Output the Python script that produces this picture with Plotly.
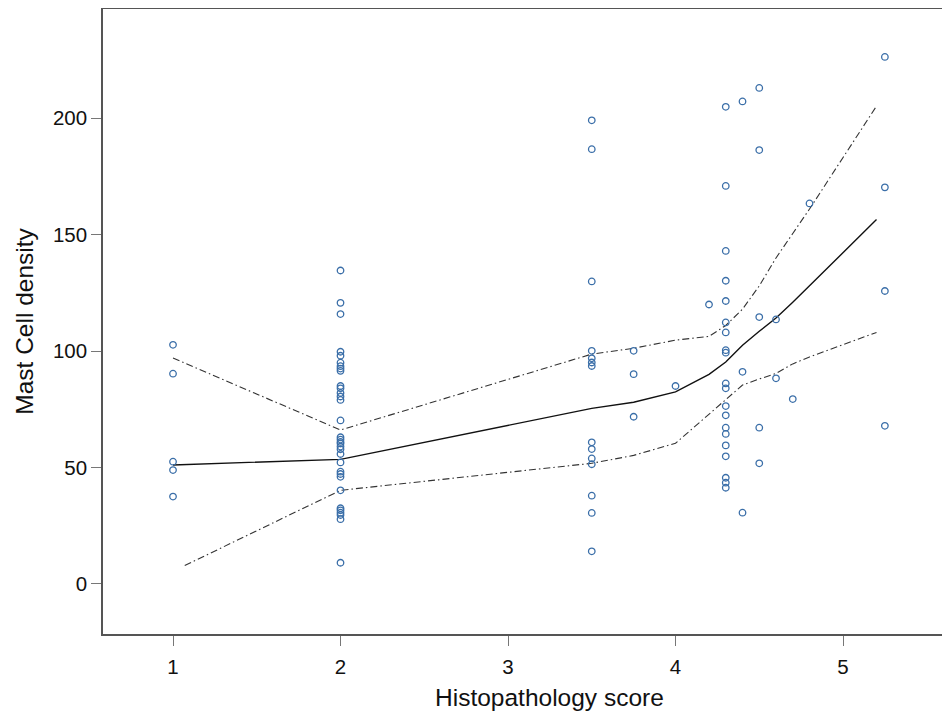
import plotly.graph_objects as go

# ---- scatter data (Histopathology score, Mast Cell density) ----
score_1 = [1] * 5
density_1 = [102.7, 90.3, 52.5, 48.9, 37.5]

density_2 = [134.6, 120.7, 115.9, 99.7, 98.0, 95.0, 93.5, 92.5, 91.5, 85.0, 84.0,
             82.0, 80.5, 79.0, 70.2, 63.0, 62.0, 61.0, 60.3, 59.0, 57.8, 55.8,
             52.2, 48.2, 47.2, 46.0, 40.2, 32.5, 31.6, 30.6, 29.6, 27.8, 9.1]
score_2 = [2] * len(density_2)

density_35 = [199.1, 186.7, 129.9, 100.1, 96.9, 95.1, 93.6, 60.8, 57.9, 53.9, 51.4, 37.9, 30.5, 14.0]
score_35 = [3.5] * len(density_35)

density_375 = [100.1, 90.1, 71.8]
score_375 = [3.75] * len(density_375)

score_misc = [4.0, 4.2, 4.6, 4.6, 4.7, 4.8]
density_misc = [85.0, 120.0, 113.6, 88.3, 79.4, 163.4]

density_43 = [204.9, 170.9, 143.0, 130.2, 121.5, 112.3, 108.0, 100.4, 99.3, 86.1, 84.0,
              76.4, 72.4, 67.1, 64.4, 59.5, 54.8, 45.6, 43.5, 41.3]
score_43 = [4.3] * len(density_43)

density_44 = [207.2, 91.1, 30.6]
score_44 = [4.4] * len(density_44)

density_45 = [213.0, 186.3, 114.6, 67.1, 51.8]
score_45 = [4.5] * len(density_45)

density_525 = [226.3, 170.3, 125.8, 67.9]
score_525 = [5.25] * len(density_525)

# ---- fitted curve and bands ----
fit_x = [1, 2, 3.5, 3.75, 4.0, 4.2, 4.3, 4.4, 4.5, 4.6, 4.7, 4.8, 5.2]
fit_mid = [51.1, 53.5, 75.4, 78.0, 82.5, 90.0, 95.3, 102.5, 108.5, 114.2, 121.0, 128.0, 156.5]
fit_upper = [97.0, 66.1, 98.7, 101.2, 104.7, 106.3, 111.0, 118.0, 128.0, 140.0, 150.5, 161.0, 205.2]
lower_x = [1.07, 2, 3.5, 3.75, 4.0, 4.2, 4.3, 4.4, 4.5, 4.6, 4.7, 4.8, 5.2]
fit_lower = [7.9, 40.2, 51.8, 55.2, 60.4, 73.0, 79.5, 85.4, 88.0, 90.4, 94.5, 97.5, 108.0]

x_ticks = [1, 2, 3, 4, 5]
y_ticks = [0, 50, 100, 150, 200]

xs = score_1 + score_2 + score_35 + score_375 + score_misc + score_43 + score_44 + score_45 + score_525
ys = density_1 + density_2 + density_35 + density_375 + density_misc + density_43 + density_44 + density_45 + density_525

fig = go.Figure()
dash_pat = "7px,3px,1.5px,3px"
fig.add_trace(go.Scatter(x=fit_x, y=fit_upper, mode="lines",
                         line=dict(color="#333333", width=1.1, dash=dash_pat), hoverinfo="skip"))
fig.add_trace(go.Scatter(x=lower_x, y=fit_lower, mode="lines",
                         line=dict(color="#333333", width=1.1, dash=dash_pat), hoverinfo="skip"))
fig.add_trace(go.Scatter(x=fit_x, y=fit_mid, mode="lines",
                         line=dict(color="#111111", width=1.4), hoverinfo="skip"))
fig.add_trace(go.Scatter(x=xs, y=ys, mode="markers",
                         marker=dict(symbol="circle-open", size=6.5, color="#3a6ea8",
                                     line=dict(width=1.3, color="#3a6ea8"))))

axis_font = dict(family="Liberation Sans, Arial, sans-serif", size=20.5, color="#111111")
title_font = dict(family="Liberation Sans, Arial, sans-serif", size=24.5, color="#111111")

fig.update_layout(
    width=934, height=707,
    margin=dict(l=95, r=0, t=1, b=81),
    plot_bgcolor="white", paper_bgcolor="white",
    showlegend=False,
    xaxis=dict(range=[0.582, 5.591], tickvals=x_ticks, ticktext=[str(v) for v in x_ticks],
               showgrid=False, zeroline=False, showline=True, mirror=True,
               linecolor="#555555", linewidth=1.5,
               ticks="outside", ticklen=10, tickwidth=1.3, tickcolor="#777777",
               tickfont=axis_font, ticklabelstandoff=4),
    yaxis=dict(range=[-21.5, 246.9], tickvals=y_ticks, ticktext=[str(v) for v in y_ticks],
               showgrid=False, zeroline=False, showline=True,
               linecolor="#555555", linewidth=1.5,
               ticks="outside", ticklen=10, tickwidth=1.3, tickcolor="#777777",
               tickfont=axis_font,
               title=dict(text="Mast Cell density", font=title_font, standoff=12)),
    annotations=[dict(text="Histopathology score", xref="paper", yref="paper",
                      x=0.5316, y=-0.1008, xanchor="center", yanchor="middle",
                      showarrow=False, font=title_font)],
)

fig.write_html("out.html")
